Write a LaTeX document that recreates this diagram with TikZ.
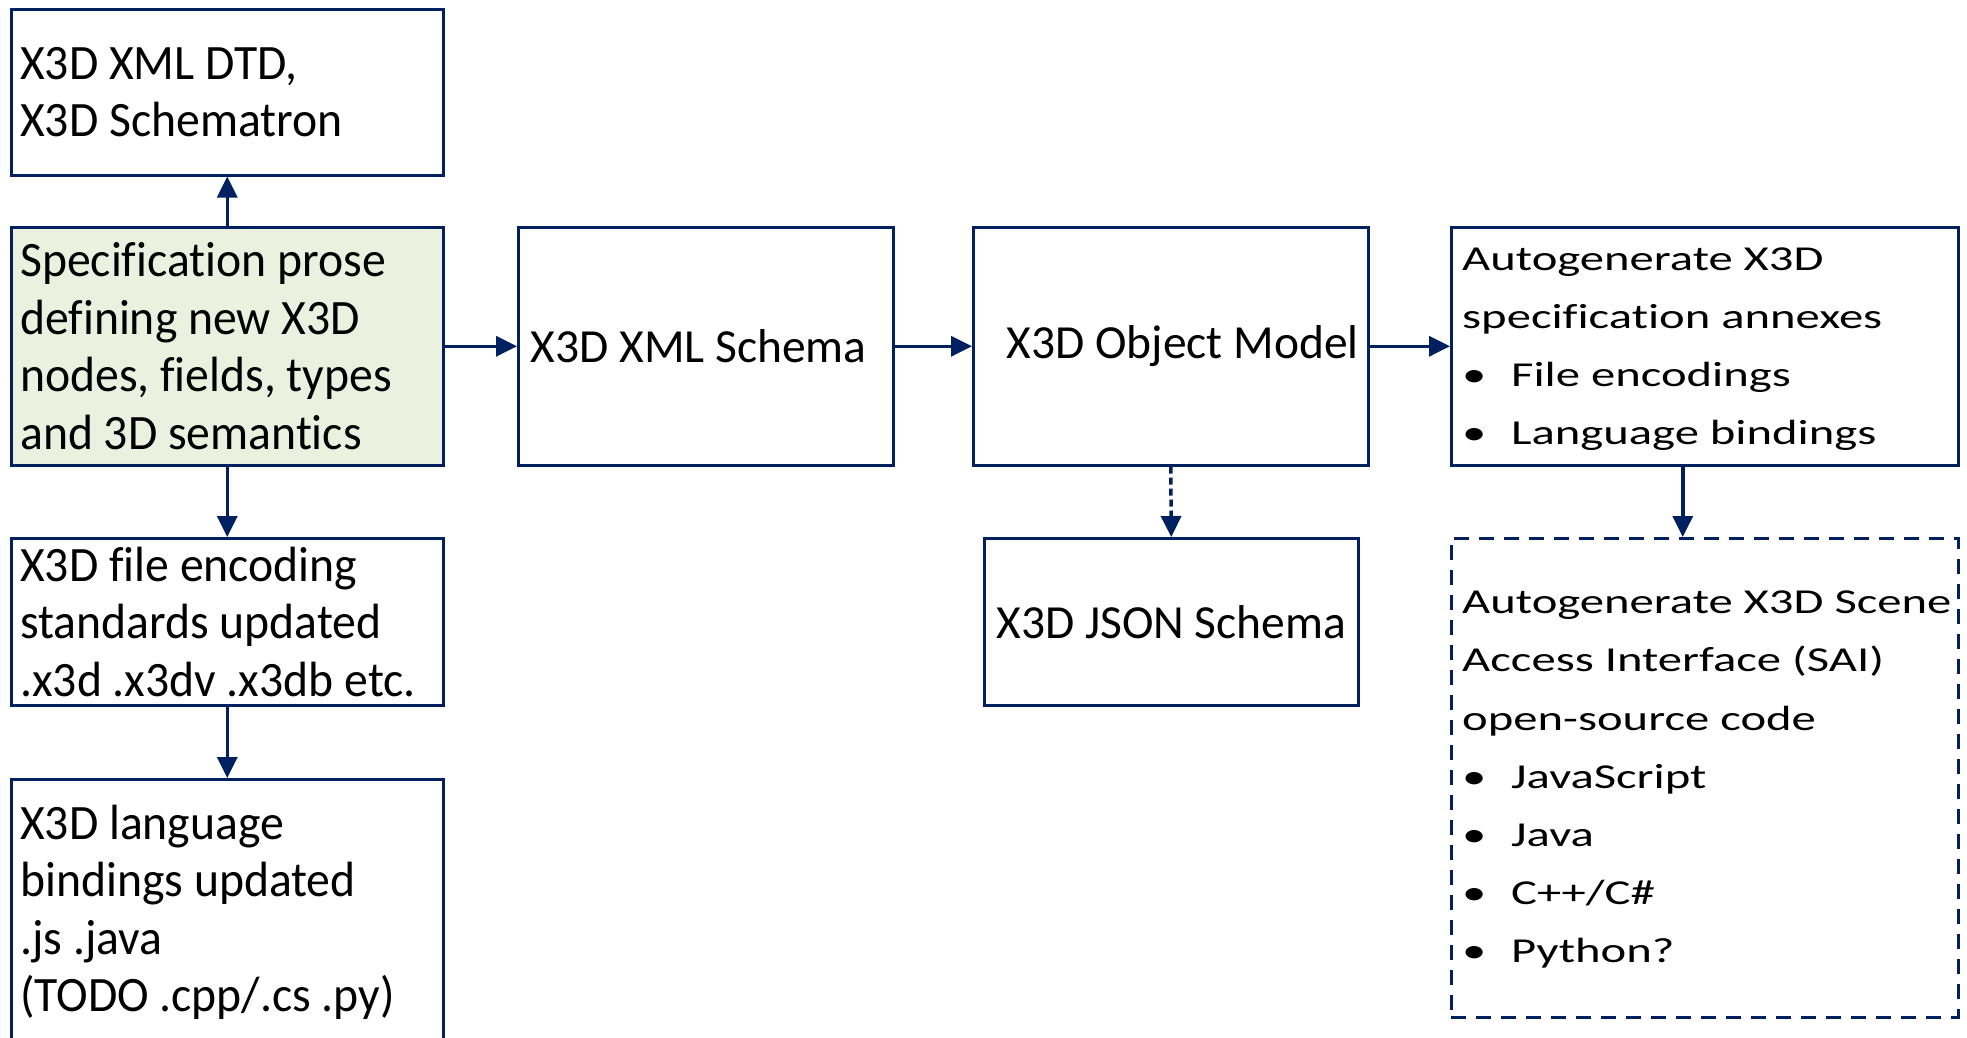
\documentclass[tikz,border=0pt]{standalone}
\usepackage{fontspec}
\setmainfont[Ligatures=NoCommon]{Carlito}
\newfontfamily\lfont[FakeStretch=0.963,Ligatures=NoCommon]{Carlito}
\newfontfamily\rfont[FakeStretch=1.39,Ligatures=NoCommon]{Carlito}
\usetikzlibrary{arrows.meta}
\definecolor{navy}{HTML}{002060}
\definecolor{lgreen}{HTML}{EBF1DE}
\newcommand\myitem{\makebox[49pt][l]{•}}
\begin{document}
\begin{tikzpicture}[x=1pt,y=-1pt,
  box/.style={draw=navy,line width=2.5pt,anchor=north west,inner sep=0pt},
  lt/.style={anchor=west,align=left,inner sep=0pt,font=\lfont\fontsize{49.5}{57.5}\selectfont},
  mt/.style={align=center,inner sep=0pt,font=\fontsize{47.5}{57.5}\selectfont},
  rt/.style={anchor=west,align=left,inner sep=0pt,font=\rfont\fontsize{35}{58.2}\selectfont},
  arr/.style={draw=navy,line width=3.5pt,-{Triangle[length=21pt,width=20pt]}},
  darr/.style={arr,dash pattern=on 7pt off 4pt},
]
\useasboundingbox (0,0) rectangle (1967,1037);
\fill[white] (0,0) rectangle (1967,1037);

% boxes
\node[box,minimum width=432pt,minimum height=166pt] (dtd) at (10,8) {};
\node[box,fill=lgreen,minimum width=432pt,minimum height=238pt] (spec) at (10,226) {};
\node[box,minimum width=432pt,minimum height=167pt] (enc) at (10,537) {};
\node[box,minimum width=432pt,minimum height=266pt] (lang) at (10,778) {};
\node[box,minimum width=375pt,minimum height=238pt] (xsd) at (517,226) {};
\node[box,minimum width=395pt,minimum height=238pt] (om) at (972,226) {};
\node[box,minimum width=374pt,minimum height=167pt] (json) at (983,537) {};
\node[box,minimum width=507pt,minimum height=238pt] (annex) at (1450,226) {};
\node[box,dash pattern=on 15pt off 10pt,minimum width=507pt,minimum height=479pt] (sai) at (1450,537) {};

% texts
\node[lt] (dtdt) at ([xshift=10pt]dtd.west) {X3D XML DTD,\\X3D Schematron};
\node[lt] (spect) at ([xshift=10pt]spec.west) {Specification prose\\defining new X3D\\nodes, fields, types\\and 3D semantics};
\node[lt] (enct) at ([xshift=10pt]enc.west) {X3D file encoding\\standards updated\\.x3d .x3dv .x3db etc.};
\node[lt] (langt) at ([xshift=10pt]lang.west) {X3D language\\bindings updated\\.js .java\\(TODO .cpp/.cs .py)};
\node[mt] (xsdt) at ([xshift=-7pt]xsd.center) {X3D XML Schema};
\node[mt] (omt) at ([xshift=12pt]om.center) {X3D Object Model};
\node[mt] (jsont) at (json.center) {X3D JSON Schema};
\node[rt] (annext) at ([xshift=12pt,yshift=-3pt]annex.west) {Autogenerate X3D\\specification annexes\\\myitem File encodings\\\myitem Language bindings};
\node[rt] (sait) at ([xshift=12pt,yshift=-2pt]sai.west) {Autogenerate X3D Scene\\Access Interface (SAI)\\open-source code\\\myitem JavaScript\\\myitem Java\\\myitem C++/C\#\\\myitem Python?};

% connectors
\draw[arr] (spec.north) -- (dtd.south);
\draw[arr] (spec.south) -- (enc.north);
\draw[arr] (enc.south) -- (lang.north);
\draw[arr] (spec.east) -- (xsd.west);
\draw[arr] (xsd.east) -- (om.west);
\draw[arr] (om.east) -- (annex.west);
\draw[darr] (om.south) -- (json.north);
\draw[arr] ([xshift=-22pt]annex.south) -- ([xshift=-22pt]sai.north);
\end{tikzpicture}
\end{document}
